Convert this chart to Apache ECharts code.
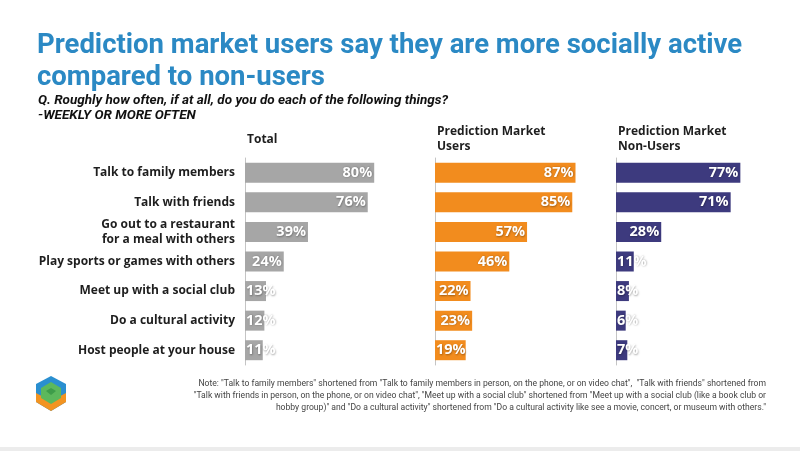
<!DOCTYPE html>
<html><head><meta charset="utf-8">
<script src="https://cdn.jsdelivr.net/npm/echarts@6/dist/echarts.min.js"></script>
<style>html,body{margin:0;padding:0;background:#fff}#c{width:800px;height:451px}</style>
</head><body><div id="c"></div>
<script>
const categories = ["Talk to family members","Talk with friends","Go out to a restaurant\nfor a meal with others","Play sports or games with others","Meet up with a social club","Do a cultural activity","Host people at your house"];
const totalValues = [80,76,39,24,13,12,11];
const usersValues = [87,85,57,46,22,23,19];
const nonUsersValues = [77,71,28,11,8,6,7];
const panelTitles = ["Total","Prediction Market\nUsers","Prediction Market\nNon-Users"];
const panelColors = ["#a6a6a6","#f28c1e","#3d3a7e"];
const panelLefts = [245,435,616];

const chart = echarts.init(document.getElementById('c'));
const grids = [], xAxes = [], yAxes = [], series = [];
const allVals = [totalValues, usersValues, nonUsersValues];
const pxPerUnit = 1.615;
panelLefts.forEach((left, i) => {
  grids.push({left: left, top: 158, width: 161.5, height: 207});
  xAxes.push({gridIndex: i, type: 'value', min: 0, max: 100, show: false});
  yAxes.push({gridIndex: i, type: 'category', data: categories, inverse: true,
    axisLine: {show: true, lineStyle: {color: '#c4c4c4', width: 1}},
    axisTick: {show: false},
    axisLabel: {show: i === 0, color: '#1e1e1e', fontFamily: 'Open Sans', fontWeight: 'bold', fontSize: 12, margin: 10, align: 'right', lineHeight: 15}
  });
  series.push({type: 'bar', xAxisIndex: i, yAxisIndex: i, barWidth: 20,
    itemStyle: {color: panelColors[i]},
    data: allVals[i].map(v => ({value: v, label: {position: v * pxPerUnit < 34 ? 'insideLeft' : 'insideRight', distance: v * pxPerUnit < 34 ? 1 : 2}})),
    label: {show: true, formatter: '{c}%', color: '#fff', fontFamily: 'Open Sans', fontWeight: 'bold', fontSize: 14.5, overflow: 'none',
      textShadowColor: 'rgba(0,0,0,0.35)', textShadowBlur: 2, textShadowOffsetX: 0.5, textShadowOffsetY: 0.5},
    labelLayout: {hideOverlap: false},
    silent: true, animation: false
  });
});

const graphics = [
  {type: 'text', left: 37, top: 30, style: {text: 'Prediction market users say they are more socially active\ncompared to non-users', fill: '#2b89c4', font: 'bold 27.5px "Roboto"', lineHeight: 32}},
  {type: 'text', left: 38, top: 93, style: {text: 'Q. Roughly how often, if at all, do you do each of the following things?\n-WEEKLY OR MORE OFTEN', fill: '#111', font: 'italic bold 13.5px "Roboto"', lineHeight: 15}}
];
panelTitles.forEach((t, i) => {
  const twoLine = t.indexOf('\n') >= 0;
  graphics.push({type: 'text', left: panelLefts[i] + 2, top: twoLine ? 124 : 132, style: {text: t, fill: '#1e1e1e', font: 'bold 12px "Open Sans"', lineHeight: 15}});
});
const noteLines = [
  'Note: "Talk to family members" shortened from "Talk to family members in person, on the phone, or on video chat",  "Talk with friends" shortened from',
  '"Talk with friends in person, on the phone, or on video chat", "Meet up with a social club" shortened from "Meet up with a social club (like a book club or',
  'hobby group)" and "Do a cultural activity" shortened from "Do a cultural activity like see a movie, concert, or museum with others."'
];
noteLines.forEach((t, k) => {
  graphics.push({type: 'text', right: 34, top: 379 + k * 12, style: {text: t, fill: '#444', font: '8.6px "Roboto"', align: 'right'}});
});
// logo
graphics.push(
  {type: 'polygon', shape: {points: [[51,376],[66,384],[66,402],[51,411],[36,402],[36,384]]}, style: {fill: '#2a8fd0'}},
  {type: 'polygon', shape: {points: [[36,393],[51,401],[66,393],[66,402],[51,411],[36,402]]}, style: {fill: '#f29422'}},
  {type: 'polygon', shape: {points: [[51,382],[61,388],[61,398],[51,404],[41,398],[41,388]]}, style: {fill: '#5cb85c'}},
  {type: 'polygon', shape: {points: [[51,388],[56,391],[51,395],[46,391]]}, style: {fill: '#3e9d4a'}},
  {type: 'rect', shape: {x: 0, y: 447, width: 800, height: 4}, style: {fill: '#ececec'}}
);

chart.setOption({
  animation: false,
  grid: grids, xAxis: xAxes, yAxis: yAxes, series: series,
  graphic: graphics
});
</script></body></html>
